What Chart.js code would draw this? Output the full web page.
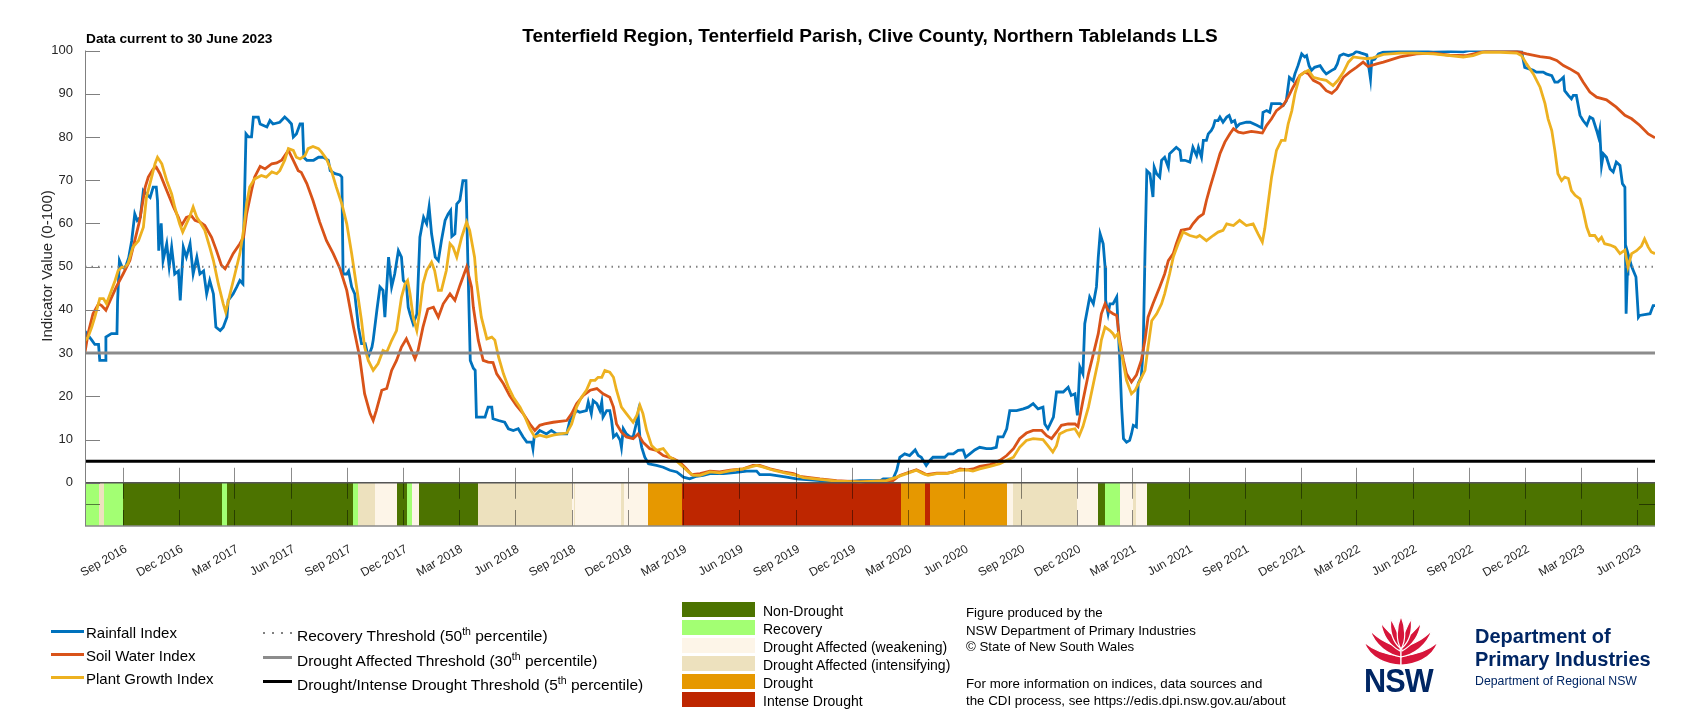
<!DOCTYPE html>
<html>
<head>
<meta charset="utf-8">
<title>Combined Drought Indicator - Tenterfield</title>
<script src="https://cdn.jsdelivr.net/npm/chart.js@4.4.1/dist/chart.umd.min.js"></script>
<style>
  body { margin: 0; background: #fff; }
  #page { position: relative; width: 1707px; height: 720px; overflow: hidden; background: #fff;
          font-family: "Liberation Sans", Arial, Helvetica, sans-serif; color: #000; }
  #page canvas { position: absolute; left: 0; top: 0; }
  .txt { position: absolute; white-space: nowrap; line-height: 20px; height: 20px; }
  .box { position: absolute; }
  sup { font-size: 0.68em; line-height: 0; vertical-align: 0.6em; }
</style>
</head>
<body>
<div id="page">
  <canvas id="cdi" width="1707" height="720"></canvas>

  <div class="txt" style="left:85px;width:1570px;top:25.5px;text-align:center;font-weight:bold;font-size:19px">Tenterfield Region, Tenterfield Parish, Clive County, Northern Tablelands LLS</div>
  <div class="txt" style="left:86px;top:28.8px;font-weight:bold;font-size:13.7px">Data current to 30 June 2023</div>
  <div class="txt" style="left:-103px;top:256px;width:300px;text-align:center;font-size:15px;color:#262626;transform:rotate(-90deg)">Indicator Value (0-100)</div>

  <div class="box" style="left:263px;top:632px;width:29px;height:2px;background:repeating-linear-gradient(90deg,#808080 0 2px,transparent 2px 9px)"></div>
  <div class="box" style="left:263px;top:655.5px;width:29px;height:3px;background:#8c8c8c"></div>
  <div class="box" style="left:263px;top:679.5px;width:29px;height:3px;background:#000"></div>
  <div class="txt" style="left:297px;top:625.5px;font-size:15.5px">Recovery Threshold (50<sup>th</sup> percentile)</div>
  <div class="txt" style="left:297px;top:650.5px;font-size:15.5px">Drought Affected Threshold (30<sup>th</sup> percentile)</div>
  <div class="txt" style="left:297px;top:674.5px;font-size:15.5px">Drought/Intense Drought Threshold (5<sup>th</sup> percentile)</div>

  <div class="txt" style="left:966px;top:603.3px;font-size:13.3px">Figure produced by the</div>
  <div class="txt" style="left:966px;top:620.7px;font-size:13.3px">NSW Department of Primary Industries</div>
  <div class="txt" style="left:966px;top:637.3px;font-size:13.3px">© State of New South Wales</div>
  <div class="txt" style="left:966px;top:673.8px;font-size:13.3px">For more information on indices, data sources and</div>
  <div class="txt" style="left:966px;top:690.8px;font-size:13.3px">the CDI process, see https://edis.dpi.nsw.gov.au/about</div>

  <svg class="box" style="left:1364px;top:614px" width="74" height="52" viewBox="0 0 74 52">
    <g fill="#D7153A" stroke="#fff" stroke-width="1.2" stroke-linejoin="round">
      <path d="M37 51 C24 51 6 45 0 28 C10 37 24 41 37 42 Z"/>
      <path d="M37 51 C50 51 68 45 74 28 C64 37 50 41 37 42 Z"/>
      <path d="M37 43 C25 41 11 32 6 16 C16 27 28 31 37 34 Z"/>
      <path d="M37 43 C49 41 63 32 68 16 C58 27 46 31 37 34 Z"/>
      <path d="M36 37 C27 32 19 23 17 9 C25 19 31 24 37 29 Z"/>
      <path d="M38 37 C47 32 55 23 57 9 C49 19 43 24 37 29 Z"/>
      <path d="M36 34 C29 28 25 17 27 5 C32 14 35 22 37 30 Z"/>
      <path d="M38 34 C45 28 49 17 47 5 C42 14 39 22 37 30 Z"/>
      <path d="M37 35 C32 27 32 14 37 2 C42 14 42 27 37 35 Z"/>
    </g>
  </svg>
  <div class="txt" style="left:1364px;top:662px;height:36px;line-height:36px;font-size:34px;font-weight:bold;letter-spacing:-1px;color:#002664;transform:scaleX(0.9);transform-origin:left center">NSW</div>
  <div class="txt" style="left:1475px;top:626px;font-size:20px;font-weight:bold;color:#002664">Department of</div>
  <div class="txt" style="left:1475px;top:649px;font-size:20px;font-weight:bold;color:#002664">Primary Industries</div>
  <div class="txt" style="left:1475px;top:671.3px;font-size:12.3px;color:#002664">Department of Regional NSW</div>
</div>

<script>
// x values are days since 1 July 2016; the axis runs to 30 June 2023
const X_MAX = 2555;
const BAND_MIN = -10;

// Rainfall Index [day, value]
const rainfallIndex = [
  [0,32],[3,34.5],[11,33],[16,32],[22,32],[24,28.3],[33,28.3],[34,33.7],[43,34.5],[52,34.5],[53,42],[56,51.4],[60,50],[65,49.5],[71,52],[76,56],[81,62.2],[85,60.7],[90,61.4],[95,67.6],[100,66.8],[106,66],[111,68.4],[116,68.4],[118,65.3],[120,53.7],[124,60],[127,51.4],[133,55.3],[137,50],[141,54.5],[146,48.3],[152,49],[155,42.2],[160,54.5],[165,52.2],[171,55.3],[176,48.3],[182,52.2],[187,48.3],[193,49],[198,43.7],[203,46.8],[209,43.7],[213,36],[220,35.2],[225,36],[231,38.3],[233,42.2],[241,43.7],[247,45.3],[252,46.8],[257,46],[258,56],[262,80.7],[266,80],[271,80],[274,84.6],[282,84.6],[285,83],[296,82.3],[301,83.8],[306,83],[317,83.4],[325,84.6],[331,83.8],[336,83],[339,80],[344,80.7],[350,83],[354,83],[356,75.3],[361,74.6],[372,74.6],[380,75.3],[388,75.3],[396,74.6],[399,72.2],[407,71.5],[415,71.2],[418,70.7],[420,48.3],[426,48.3],[429,49],[434,45.3],[439,43.7],[445,36],[450,32.2],[456,32.2],[461,29.1],[467,31.4],[469,33],[475,39.9],[480,45.3],[485,44.5],[488,38.3],[494,52.2],[499,45.3],[504,48.3],[510,53.7],[515,52.2],[518,46.8],[523,46],[526,40.6],[529,39],[534,36.8],[540,39],[545,56.8],[551,61.4],[556,59.9],[560,63.8],[564,57.6],[570,52.2],[575,51.4],[580,56],[586,60.7],[591,62.2],[595,63],[597,57],[602,57.6],[605,64.5],[610,65.3],[615,69.9],[620,69.9],[623,51.4],[627,28.3],[632,26.5],[635,26],[637,15.2],
  [651,15.2],[656,17.5],[662,17.5],[664,14.8],[673,14.4],[683,14],[689,12.5],[697,12.1],[705,12.5],[713,10.6],[719,9.4],[727,9.4],[729,7.9],[731,10.6],[740,12.1],[751,11.3],[759,12.1],[767,11.3],[784,11.3],[789,14.4],[800,16.7],[805,16.3],[816,16.7],[819,18.7],[824,16],[827,19],[833,18.3],[838,16.7],[841,18.7],[843,15.2],[849,16.7],[854,16.7],[857,14.4],[860,10.6],[865,11.3],[871,9.8],[873,8.2],[876,12.5],[881,11.3],[887,10.6],[892,10.6],[897,13.6],[900,16],[903,10.6],[906,8.2],[911,5.9],[917,4.4],[930,4],[941,3.6],[952,2.9],[963,2.5],[974,1.3],[984,0.9],[995,1.5],[1006,1.7],[1017,2.1],[1039,2.1],[1060,2.4],[1077,2.7],[1093,2.7],[1098,1.9],[1115,1.9],[1142,1.3],[1158,0.9],[1196,0.5],[1223,0.2],[1250,0.4],[1261,0.5],
  [1294,0.5],[1299,0.9],[1315,0.9],[1321,2.9],[1326,5.9],[1334,6.7],[1342,6.3],[1351,7.6],[1356,6.3],[1361,5.9],[1369,4],[1375,5.2],[1380,5.9],[1399,5.9],[1405,6.7],[1413,6.7],[1421,7.5],[1429,7.6],[1433,5.9],[1440,6.7],[1448,7.6],[1456,8.2],[1467,7.9],[1475,7.9],[1483,8.2],[1486,10.6],[1494,10.6],[1500,12.5],[1505,16.7],[1516,16.7],[1527,17.1],[1535,17.5],[1543,18.3],[1551,17.1],[1559,17.5],[1562,13.6],[1567,12.5],[1576,15.2],[1581,21],[1592,21],[1600,22.1],[1605,20.2],[1611,20.6],[1615,15.6],[1619,26.8],[1624,25.2],[1627,36.8],[1633,41.4],[1635,43],[1641,41.4],[1646,45.3],[1649,52.2],[1652,57.6],[1657,55.3],[1660,50],[1661,42.2],[1665,39.1],[1668,41.4],[1673,41.4],[1679,43],[1681,36.8],[1684,28.3],[1687,17.5],[1690,10.2],[1695,9.4],[1700,9.8],[1703,11.3],[1706,13.3],[1711,12.9],[1714,23],[1719,24.5],[1722,30.6],[1725,53],[1728,72.2],[1733,71.5],[1738,66.1],[1740,73],[1744,71.5],[1749,70.7],[1752,74.6],[1757,75.3],[1763,73],[1765,76.1],[1771,76.9],[1776,77.6],[1782,76.9],[1784,74.6],[1790,74.6],[1798,74.2],[1803,77.6],[1809,75.7],[1812,77.6],[1817,75.3],[1820,79.2],[1825,79.2],[1828,80.7],[1833,81.5],[1836,82.3],[1839,83.8],[1844,83.8],[1847,84.6],[1852,83.4],[1858,84.6],[1862,85],[1866,83.4],[1871,83.8],[1874,82.3],[1879,83],[1890,83.4],
  [1896,83.4],[1907,82.7],[1915,82.1],[1917,85.7],[1923,86.1],[1928,85.7],[1931,87.7],[1945,87.7],[1950,87.3],[1955,88.4],[1960,93.8],[1966,93],[1969,94.6],[1974,96.5],[1980,99.2],[1985,98.5],[1988,98.8],[1992,96.5],[1996,95.4],[2001,96.1],[2010,96.5],[2015,95.4],[2020,94.6],[2029,95.4],[2034,95.8],[2038,96.9],[2042,98.8],[2048,99.2],[2056,98.8],[2064,99.2],[2069,99.8],[2077,99.4],[2086,99],[2090,95.4],[2092,93.4],[2094,97.7],[2099,98],[2105,99.2],[2113,99.6],[2140,99.8],[2167,100],[2194,99.7],[2221,99.8],[2243,99.7],[2254,100],[2303,100],[2330,99.8],[2338,99.7],[2343,96.1],[2349,95.8],[2357,95.4],[2362,95],[2373,95],[2378,94.6],[2387,94.2],[2392,92.7],[2397,92.7],[2403,93.4],[2406,93.8],[2408,90.7],[2414,89.6],[2419,88.8],[2422,89.6],[2427,89.6],[2433,85],[2438,83.8],[2444,82.7],[2449,84.6],[2454,84.2],[2460,81.5],[2463,80],[2465,81.5],[2468,73.4],[2471,76.1],[2476,75.3],[2482,72.6],[2487,71.9],[2492,74.2],[2498,73.4],[2502,69.2],[2506,68.4],[2508,39.1],[2510,48.3],[2511,53],[2517,50],[2524,47.6],[2528,38.3],[2530,38.7],[2547,39.1],[2552,41],[2555,41]
];

// Soil Water Index [day, value]
const soilWaterIndex = [
  [0,30.2],[5,34.5],[13,39.1],[22,41.4],[27,41],[34,39.9],[41,42.2],[51,45.3],[62,48.3],[73,51.4],[81,56],[89,60.7],[98,68.4],[103,70.7],[111,72.6],[116,73],[122,71.5],[133,67.6],[144,63.8],[152,61.4],[157,59.5],[165,61.4],[173,61.8],[179,60.7],[187,60.3],[195,59.5],[206,56.8],[214,53.7],[222,50.3],[228,49.5],[233,50.7],[241,53],[252,55.3],[258,56.8],[263,62.2],[271,67.6],[276,70.7],[285,73.2],[293,72.6],[304,73.8],[312,74],[320,74.6],[331,76.9],[339,74.6],[347,72.2],[352,71.8],[361,69.2],[371,65.3],[382,60.3],[393,56],[404,53],[415,49.5],[426,44.5],[437,36],[447,29.1],[455,20.6],[464,16],[469,14.4],[474,16.7],[483,21.4],[491,21.8],[499,26],[507,28.3],[515,31.4],[523,33.3],[529,31.4],[537,28.7],[542,30.6],[550,36],[558,40.2],[567,40.6],[575,38.3],[583,41.4],[594,43.7],[602,42.2],[610,45.6],[621,49.9],[629,45.3],[632,40.6],[640,33],[648,28.3],[656,27.9],[664,27.8],[670,25.2],[681,22.9],[691,20.2],[702,17.9],[713,16],[724,13.6],[732,12.1],[740,13.3],[748,13.6],[762,14],[784,14.4],[792,16],[800,18.3],[811,20.2],[822,21.4],[833,21.8],[843,20.6],[854,19.8],[860,17.5],[865,13.6],[873,11.7],[881,10.6],[892,10.2],[900,11.3],[908,9.4],[919,7.9],[930,7.5],[941,6.3],[957,5.6],[968,4.8],[979,3.2],[987,1.9],[1001,2.1],[1017,2.7],[1033,2.5],[1050,2.9],[1071,3.2],[1087,4],[1098,4],[1115,3.2],[1136,2.5],[1153,2.1],[1163,1.5],[1196,0.9],[1223,0.5],[1261,0.2],[1315,0.5],[1326,1.7],[1342,2.5],[1353,3],[1361,2.5],[1369,1.9],[1386,2.2],[1402,2.2],[1413,2.5],[1424,3.2],[1435,3],[1445,3.2],[1456,3.8],[1473,4.2],[1489,5.2],[1500,6.3],[1511,7.9],[1521,10.2],[1532,11.5],[1543,12.1],[1557,12.1],[1565,10.9],[1573,10.2],[1581,11.7],[1589,13.3],[1600,13.6],[1611,13.6],[1616,13],[1624,19],[1633,25.2],[1641,29.8],[1649,34.5],[1654,39.1],[1660,41.4],[1665,39.9],[1673,39.1],[1679,38.7],[1684,33],[1690,28.3],[1695,25.2],[1703,23.3],[1711,24.9],[1719,28.3],[1725,33],[1730,38.3],[1738,41.4],[1749,45.3],[1757,48.3],[1763,51.4],[1771,53],[1776,55.3],[1784,58.4],[1798,58.8],[1803,59.9],[1812,61.4],[1820,62.2],[1825,65.3],[1831,68.4],[1839,72.2],[1847,76.1],[1855,78.8],[1863,80.7],[1869,81.9],[1877,81.1],[1885,80.9],[1898,81.3],[1907,81.1],[1916,80.9],[1923,82.7],[1931,84.2],[1939,86.1],[1950,87.3],[1958,89.2],[1966,91.5],[1977,94.2],[1985,95],[1991,94.6],[1999,93.1],[2010,92.3],[2020,90.7],[2029,90.1],[2037,91.1],[2048,93.8],[2058,95],[2069,96.1],[2080,97.3],[2088,96.3],[2102,96.9],[2113,97.3],[2140,98.5],[2167,99.2],[2194,99.4],[2221,98.9],[2248,98.8],[2265,99.4],[2286,100],[2308,100],[2330,99.8],[2346,99.2],[2368,98.6],[2384,98.3],[2395,97.7],[2406,96.5],[2416,95.8],[2430,94.6],[2438,92.7],[2449,90.4],[2460,89.2],[2476,88.6],[2492,86.9],[2506,85],[2517,84.2],[2530,82.7],[2544,80.7],[2555,79.8]
];

// Plant Growth Index [day, value]
const plantGrowthIndex = [
  [0,32.9],[5,33.7],[11,36],[16,38.3],[24,42.6],[30,42.6],[35,41.4],[43,44.5],[49,46.8],[54,49.1],[60,49.9],[65,49.9],[70,50.7],[78,54.5],[87,56],[95,59.1],[100,66.1],[107,69.9],[114,73.8],[118,75.3],[125,73.8],[133,69.9],[141,66.8],[146,63.8],[154,59.9],[159,58],[165,59.9],[171,61.8],[176,63.8],[182,61.4],[187,60.3],[195,58.4],[203,54.5],[209,51.4],[217,46],[225,41.4],[229,39.5],[236,43.7],[244,48.3],[252,53],[258,58.4],[263,64.5],[268,68.4],[276,70.3],[287,71.1],[295,70.7],[304,71.9],[312,71.5],[317,72.2],[325,74.6],[331,77.3],[339,76.9],[344,75.3],[350,74.9],[358,75.7],[363,77.3],[371,77.8],[380,77.3],[385,76.5],[393,74.9],[401,72.2],[409,68.4],[418,64.5],[426,59.9],[434,53],[442,45.3],[450,37.5],[455,31.4],[461,28.3],[469,26],[477,27.6],[485,30.6],[491,30.2],[499,32.9],[507,35.2],[515,42.9],[521,46],[525,46.8],[529,43.7],[534,38.3],[540,35.2],[545,39.9],[550,46],[556,49.1],[564,51],[569,49.1],[575,44.5],[580,44.5],[588,49.1],[594,55.3],[599,54.5],[605,52.2],[613,56.8],[621,60.3],[626,58.4],[634,52.2],[637,46.8],[645,38.3],[654,33.3],[662,33.7],[667,33],[673,29.1],[681,25.2],[689,22.1],[697,19.8],[708,17.5],[716,15.2],[724,12.5],[732,10.6],[740,11],[751,10.6],[762,11],[773,11.3],[784,11.5],[792,13.6],[800,17.5],[808,19.8],[816,21.4],[823,23.7],[830,23.7],[835,24.4],[841,24.4],[846,26],[854,25.6],[860,24.4],[865,21.4],[873,17.5],[881,16],[892,14],[898,15.6],[903,17.9],[908,16],[914,12.1],[922,8.6],[930,7.5],[941,7.9],[952,5.9],[963,5],[974,3.6],[982,2.5],[990,1.7],[1001,1.7],[1017,2.5],[1033,2.3],[1055,2.9],[1071,3.2],[1093,4],[1104,3.6],[1120,2.9],[1142,2.2],[1158,1.7],[1169,1.2],[1196,0.8],[1223,0.4],[1261,0.2],[1304,0.5],[1321,1.3],[1337,2.1],[1353,2.9],[1364,2.1],[1372,1.7],[1386,2.1],[1402,2.1],[1413,2.5],[1424,2.9],[1435,3],[1445,2.7],[1456,3.2],[1473,3.8],[1489,4.4],[1500,5.2],[1511,5.9],[1521,8.2],[1532,9.8],[1543,10.2],[1559,10],[1567,8.6],[1575,7.1],[1581,8.6],[1586,11.3],[1597,12.1],[1611,12.5],[1618,10.9],[1624,13],[1633,17.5],[1641,22.9],[1649,28.3],[1654,33],[1660,36],[1668,35.2],[1673,34.5],[1676,33.7],[1681,34.5],[1687,29.8],[1695,23.7],[1703,20.6],[1709,21.4],[1717,23.7],[1725,26],[1730,31.4],[1736,37.5],[1744,39.1],[1752,41.4],[1757,43.7],[1765,48.3],[1771,52.2],[1779,55.3],[1787,58],[1798,57.2],[1809,56.8],[1814,57.2],[1825,56],[1836,57.2],[1844,58],[1852,58.4],[1858,59.9],[1869,59.5],[1879,60.7],[1890,59.5],[1901,59.9],[1909,57.6],[1916,55.7],[1920,58.8],[1926,65.3],[1931,70.7],[1939,76.9],[1947,79.2],[1953,79.2],[1958,83],[1964,86.1],[1969,90],[1977,94.2],[1985,95],[1991,95.4],[1999,93.8],[2010,93.4],[2020,93.1],[2031,91.9],[2039,93.1],[2048,95],[2056,97.3],[2064,98.5],[2075,98.3],[2086,98.1],[2096,98.3],[2113,99.1],[2140,99.4],[2167,99.4],[2194,99.2],[2221,98.8],[2243,98.5],[2259,98.8],[2275,99.6],[2303,99.6],[2330,99.4],[2338,98.8],[2346,96.9],[2357,94.6],[2368,91.5],[2376,87.7],[2381,84.2],[2387,81.5],[2392,76.9],[2397,71.5],[2403,69.9],[2408,70.7],[2414,70.4],[2419,67.6],[2425,66.5],[2433,65.7],[2438,63],[2444,59.1],[2449,57.2],[2457,57.2],[2463,56],[2468,56.8],[2473,55.3],[2482,55],[2490,54.5],[2498,53],[2506,53.8],[2511,49.9],[2517,53],[2525,53.7],[2533,54.8],[2538,56.4],[2544,54.5],[2549,53.4],[2555,53]
];

// thresholds: recovery, drought affected, intense drought
const thresholds = [50, 30, 5];

// CDI phase band: start day of each run and its class index
const bandNames = ['Non-Drought', 'Recovery', 'Drought Affected (weakening)', 'Drought Affected (intensifying)', 'Drought', 'Intense Drought'];
const bandColors = ['#4C7300', '#A3FF73', '#FDF5E8', '#EDE1BE', '#E69800', '#BE2600'];
const bandStart = [0, 23, 31, 62, 223, 231, 436, 444, 472, 508, 524, 532, 543, 639, 792, 795, 798, 873, 877, 916, 971, 1328, 1367, 1375, 1500, 1510, 1614, 1648, 1660, 1684, 1705, 1710, 1728];
const bandClass = [1, 3, 1, 0, 1, 0, 1, 3, 2, 0, 1, 2, 0, 3, 2, 3, 2, 3, 2, 4, 5, 4, 5, 4, 2, 3, 2, 0, 1, 2, 3, 2, 0];

const tickLabels = ['Sep 2016', 'Dec 2016', 'Mar 2017', 'Jun 2017', 'Sep 2017', 'Dec 2017', 'Mar 2018', 'Jun 2018',
  'Sep 2018', 'Dec 2018', 'Mar 2019', 'Jun 2019', 'Sep 2019', 'Dec 2019', 'Mar 2020', 'Jun 2020', 'Sep 2020',
  'Dec 2020', 'Mar 2021', 'Jun 2021', 'Sep 2021', 'Dec 2021', 'Mar 2022', 'Jun 2022', 'Sep 2022', 'Dec 2022',
  'Mar 2023', 'Jun 2023'];
const yTicks = [0, 10, 20, 30, 40, 50, 60, 70, 80, 90, 100];

const seriesNames = ['Rainfall Index', 'Soil Water Index', 'Plant Growth Index'];
const seriesColors = ['#0072BD', '#D95319', '#EDB120'];

// tick positions from the labels
const monthIndex = { Mar: 2, Jun: 5, Sep: 8, Dec: 11 };
const origin = Date.UTC(2016, 6, 1);
const tickDays = tickLabels.map(s => {
  const [m, y] = s.split(' ');
  return Math.round((Date.UTC(+y, monthIndex[m], 1) - origin) / 86400000);
});

// legends (html)
const page = document.getElementById('page');
seriesNames.forEach((name, i) => {
  const sw = document.createElement('div');
  sw.className = 'box';
  sw.style.cssText = `left:51px;top:${630 + i * 23}px;width:33px;height:3px;background:${seriesColors[i]}`;
  page.appendChild(sw);
  const t = document.createElement('div');
  t.className = 'txt';
  t.style.cssText = `left:86px;top:${622.5 + i * 23}px;font-size:15px`;
  t.textContent = name;
  page.appendChild(t);
});
bandNames.forEach((name, i) => {
  const sw = document.createElement('div');
  sw.className = 'box';
  sw.style.cssText = `left:682px;top:${602 + i * 18}px;width:73px;height:15px;background:${bandColors[i]}`;
  page.appendChild(sw);
  const t = document.createElement('div');
  t.className = 'txt';
  t.style.cssText = `left:763px;top:${600.5 + i * 18}px;font-size:14px`;
  t.textContent = name;
  page.appendChild(t);
});

const cdiPlugin = {
  id: 'cdiBand',
  beforeDatasetsDraw(chart) {
    const { ctx, scales: { x, y } } = chart;
    const top = y.getPixelForValue(0);
    const bottom = y.getPixelForValue(BAND_MIN);
    ctx.save();
    bandStart.forEach((start, i) => {
      const end = i + 1 < bandStart.length ? bandStart[i + 1] : X_MAX;
      const x0 = Math.round(x.getPixelForValue(start));
      const x1 = Math.round(x.getPixelForValue(end));
      ctx.fillStyle = bandColors[bandClass[i]];
      ctx.fillRect(x0, top, x1 - x0, bottom - top);
    });
    ctx.restore();
  },
  afterDatasetsDraw(chart) {
    const { ctx, chartArea: area, scales: { x, y } } = chart;
    const y0 = y.getPixelForValue(0);
    const yb = y.getPixelForValue(BAND_MIN);
    const ym = y.getPixelForValue(BAND_MIN / 2);
    ctx.save();
    ctx.lineWidth = 1;

    // x ticks, above and inside the band
    ctx.strokeStyle = 'rgba(0,0,0,0.45)';
    ctx.beginPath();
    tickDays.forEach(d => {
      const px = Math.round(x.getPixelForValue(d)) + 0.5;
      ctx.moveTo(px, y0 - 15);
      ctx.lineTo(px, y0 + 16);
      ctx.moveTo(px, yb - 16);
      ctx.lineTo(px, yb);
    });
    ctx.stroke();

    // y ticks point inward
    ctx.strokeStyle = '#808080';
    ctx.beginPath();
    yTicks.forEach(v => {
      const py = Math.round(y.getPixelForValue(v)) + 0.5;
      ctx.moveTo(area.left, py);
      ctx.lineTo(area.left + 15, py);
    });
    ctx.stroke();
    ctx.strokeStyle = 'rgba(0,0,0,0.5)';
    ctx.beginPath();
    ctx.moveTo(area.left, Math.round(ym) + 0.5);
    ctx.lineTo(area.left + 15, Math.round(ym) + 0.5);
    ctx.moveTo(area.right - 16, Math.round(ym) + 0.5);
    ctx.lineTo(area.right, Math.round(ym) + 0.5);
    ctx.stroke();

    // band frame
    ctx.lineWidth = 1.5;
    ctx.strokeStyle = '#555';
    ctx.beginPath();
    ctx.moveTo(area.left, y0);
    ctx.lineTo(area.right, y0);
    ctx.stroke();
    ctx.strokeStyle = '#8a8a8a';
    ctx.beginPath();
    ctx.moveTo(area.left, yb);
    ctx.lineTo(area.right, yb);
    ctx.stroke();

    // left axis
    ctx.lineWidth = 1;
    ctx.strokeStyle = '#808080';
    ctx.beginPath();
    ctx.moveTo(area.left + 0.5, area.top);
    ctx.lineTo(area.left + 0.5, yb);
    ctx.stroke();
    ctx.restore();
  }
};

function thresholdLine(value, color, width, dash) {
  return {
    data: [{ x: 0, y: value }, { x: X_MAX, y: value }],
    borderColor: color,
    borderWidth: width,
    borderDash: dash,
    pointRadius: 0
  };
}

function indexLine(points, color) {
  return {
    data: points.map(([x, y]) => ({ x, y })),
    borderColor: color,
    borderWidth: 2.8,
    pointRadius: 0,
    tension: 0
  };
}

Chart.defaults.font.family = '"Liberation Sans", Arial, Helvetica, sans-serif';
Chart.defaults.color = '#262626';

new Chart(document.getElementById('cdi'), {
  type: 'line',
  data: {
    // first dataset is drawn on top
    datasets: [
      thresholdLine(thresholds[2], '#000000', 3, []),
      thresholdLine(thresholds[1], '#8c8c8c', 3, []),
      thresholdLine(thresholds[0], '#808080', 2, [1.5, 5]),
      indexLine(plantGrowthIndex, seriesColors[2]),
      indexLine(soilWaterIndex, seriesColors[1]),
      indexLine(rainfallIndex, seriesColors[0])
    ]
  },
  options: {
    responsive: false,
    animation: false,
    devicePixelRatio: 1,
    layout: { padding: { left: 36, right: 52, top: 50.5, bottom: 124 } },
    plugins: { legend: { display: false }, tooltip: { enabled: false } },
    scales: {
      x: {
        type: 'linear',
        min: 0,
        max: X_MAX,
        grid: { display: false },
        border: { display: false },
        afterBuildTicks: axis => { axis.ticks = tickDays.map(v => ({ value: v })); },
        afterFit: axis => { axis.height = 70; },
        ticks: {
          autoSkip: false,
          minRotation: 30,
          maxRotation: 30,
          padding: 8,
          labelOffset: 3,
          font: { size: 12 },
          callback: v => tickLabels[tickDays.indexOf(v)]
        }
      },
      y: {
        min: BAND_MIN,
        max: 100,
        grid: { display: false },
        border: { display: false },
        afterBuildTicks: axis => { axis.ticks = yTicks.map(v => ({ value: v })); },
        afterFit: axis => { axis.width = 49; },
        ticks: { padding: 4, font: { size: 13 } }
      }
    }
  },
  plugins: [cdiPlugin]
});
</script>
</body>
</html>
